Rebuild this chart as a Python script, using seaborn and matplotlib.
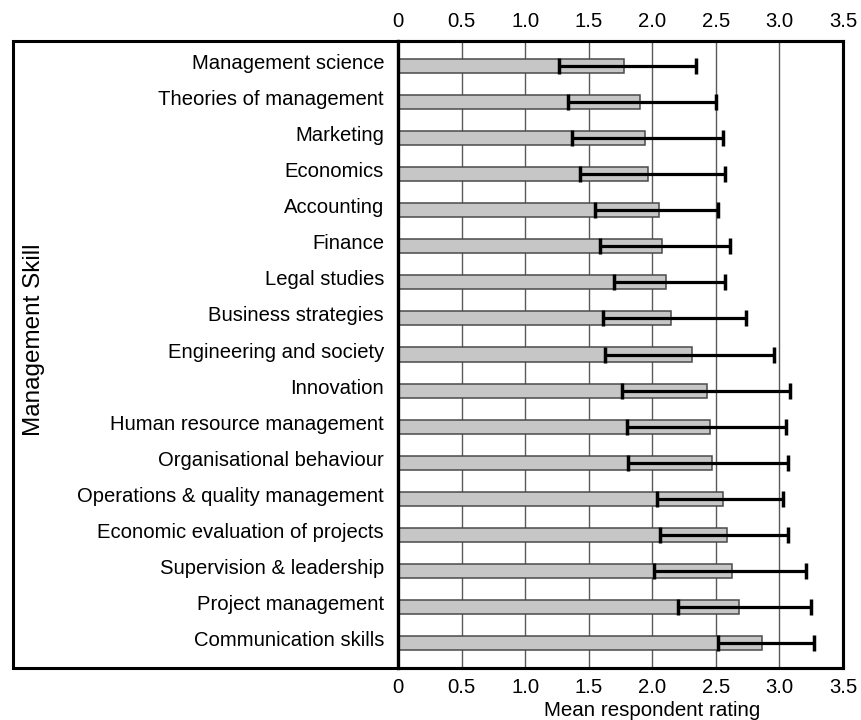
import matplotlib
matplotlib.use("Agg")
import matplotlib.pyplot as plt
import matplotlib.transforms as mtransforms
import seaborn as sns
import pandas as pd
import numpy as np
from matplotlib.patches import Rectangle

skills = [
    "Management science",
    "Theories of management",
    "Marketing",
    "Economics",
    "Accounting",
    "Finance",
    "Legal studies",
    "Business strategies",
    "Engineering and society",
    "Innovation",
    "Human resource management",
    "Organisational behaviour",
    "Operations & quality management",
    "Economic evaluation of projects",
    "Supervision & leadership",
    "Project management",
    "Communication skills",
]
mean_rating = [1.78, 1.90, 1.94, 1.97, 2.05, 2.08, 2.11, 2.15, 2.31, 2.43,
               2.45, 2.47, 2.56, 2.59, 2.63, 2.68, 2.86]
lower_bound = [1.27, 1.34, 1.37, 1.43, 1.55, 1.59, 1.70, 1.61, 1.63, 1.76,
               1.80, 1.81, 2.04, 2.06, 2.01, 2.20, 2.52]
upper_bound = [2.34, 2.50, 2.56, 2.57, 2.52, 2.61, 2.57, 2.74, 2.96, 3.08,
               3.05, 3.07, 3.03, 3.07, 3.21, 3.25, 3.27]
tick_values = [0, 0.5, 1.0, 1.5, 2.0, 2.5, 3.0, 3.5]
tick_labels = ["0", "0.5", "1.0", "1.5", "2.0", "2.5", "3.0", "3.5"]

df = pd.DataFrame({"skill": skills, "mean": mean_rating})

sns.set_theme(style="white")
plt.rcParams["font.family"] = ["Liberation Sans", "DejaVu Sans"]
plt.rcParams["text.color"] = "black"

W, H = 862, 720
fig = plt.figure(figsize=(W / 100, H / 100), dpi=100)
left, right, top, bottom = 398, 843, 41, 668
ax = fig.add_axes([left / W, 1 - bottom / H, (right - left) / W, (bottom - top) / H])

# vertical reference lines behind the bars
for v in tick_values[1:-1]:
    ax.axvline(v, color="#5a5a5a", lw=1.0, zorder=0)

sns.barplot(data=df, x="mean", y="skill", orient="h", color="#c6c6c6",
            edgecolor="#4a4a4a", linewidth=1.1, width=0.39, saturation=1,
            errorbar=None, ax=ax, zorder=2)

means = np.array(mean_rating)
err = np.vstack([means - np.array(lower_bound), np.array(upper_bound) - means])
ax.errorbar(means, np.arange(len(skills)), xerr=err, fmt="none",
            ecolor="black", elinewidth=2.3, capsize=6, capthick=2.5, zorder=3)

ax.set_xlim(0, 3.5)
ax.set_ylim(len(skills) - 1 + 0.68, -0.68)
ax.set_xticks(tick_values)
ax.set_xticklabels(tick_labels)
ax.tick_params(axis="x", top=True, labeltop=True, bottom=True, labelbottom=True,
               length=0, labelsize=14.6, pad=7, colors="black")
ax.tick_params(axis="y", length=0, labelsize=14.6, pad=10, colors="black")
ax.set_xlabel("")
ax.set_ylabel("")

# category labels sit a little above the bar centres
shift = mtransforms.ScaledTranslation(0, 4.5 / 100, fig.dpi_scale_trans)
for lab in ax.get_yticklabels():
    lab.set_transform(lab.get_transform() + shift)

for side in ["top", "right", "bottom"]:
    ax.spines[side].set_visible(True)
    ax.spines[side].set_color("black")
    ax.spines[side].set_linewidth(2.2)
ax.spines["left"].set_visible(True)
ax.spines["left"].set_color("black")
ax.spines["left"].set_linewidth(2.4)

# outer frame enclosing the category labels
frame = Rectangle((13 / W, 1 - bottom / H), (right - 13) / W, (bottom - top) / H,
                  transform=fig.transFigure, fill=False, edgecolor="black",
                  lw=2.2, zorder=10)
fig.add_artist(frame)

fig.text(34 / W, 1 - 340 / H, "Management Skill", rotation=90, ha="center",
         va="center", fontsize=17.5, color="black")
fig.text(652 / W, 1 - 710 / H, "Mean respondent rating", ha="center",
         va="center", fontsize=14.8, color="black")

fig.savefig("out.png", dpi=100, facecolor="white")
